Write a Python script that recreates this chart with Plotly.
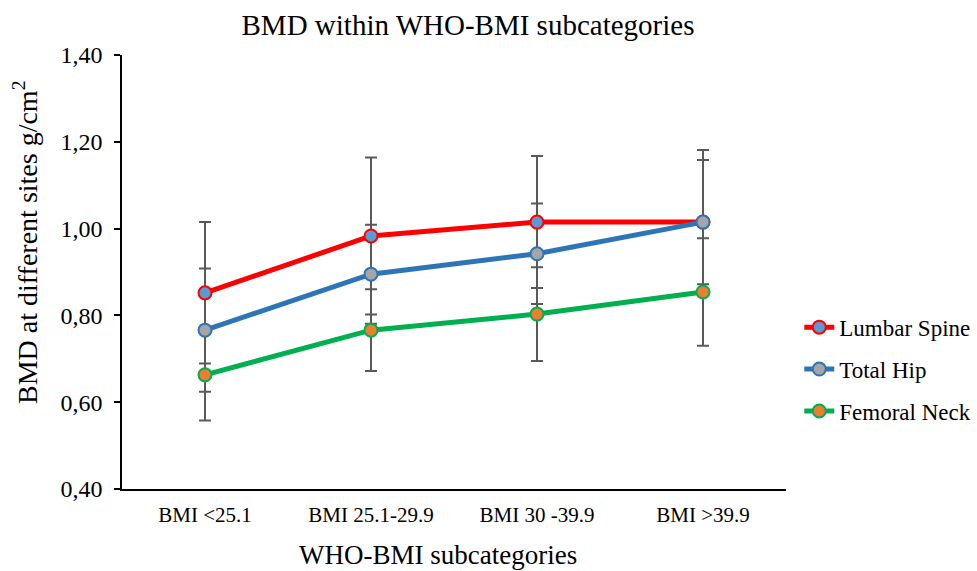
import plotly.graph_objects as go

categories = ["BMI <25.1", "BMI 25.1-29.9", "BMI 30 -39.9", "BMI >39.9"]
series_names = ["Lumbar Spine", "Total Hip", "Femoral Neck"]
lumbar_spine = [0.852, 0.983, 1.015, 1.015]
total_hip = [0.766, 0.895, 0.942, 1.015]
femoral_neck = [0.663, 0.766, 0.803, 0.854]
lumbar_sd = [0.163, 0.181, 0.152, 0.166]
total_hip_sd = [0.142, 0.114, 0.116, 0.143]
femoral_sd = [0.105, 0.094, 0.108, 0.124]
y_ticks = [0.40, 0.60, 0.80, 1.00, 1.20, 1.40]

FONT = "Liberation Serif"
values = [lumbar_spine, total_hip, femoral_neck]
sds = [lumbar_sd, total_hip_sd, femoral_sd]
line_colors = ["#FF0000", "#2E75B6", "#00B050"]
marker_fills = ["#5B9BD5", "#A5A5A5", "#ED7D31"]

fig = go.Figure()
# error bars first (beneath all lines)
for v, s in zip(values, sds):
    fig.add_trace(go.Scatter(
        x=categories, y=v, mode="markers",
        marker=dict(size=1, color="rgba(0,0,0,0)"),
        error_y=dict(type="data", array=s, visible=True, color="#595959",
                     thickness=2, width=6),
        showlegend=False, hoverinfo="skip"))

for i, (name, v) in enumerate(zip(series_names, values)):
    fig.add_trace(go.Scatter(
        x=categories, y=v, mode="lines+markers", name=name,
        legendgroup=name,
        line=dict(color=line_colors[i], width=5),
        marker=dict(size=13, color=marker_fills[i],
                    line=dict(color=line_colors[i], width=2))))

fig.update_layout(
    width=977, height=571,
    margin=dict(l=122, r=191, t=55, b=82, autoexpand=False),
    paper_bgcolor="white", plot_bgcolor="white",
    separators=",.",
    font=dict(family=FONT, color="black", size=20),
    title=dict(text="BMD within WHO-BMI subcategories",
               font=dict(family=FONT, size=29, color="black"),
               x=0.479, xref="container", xanchor="center",
               y=1 - 25 / 571, yref="container", yanchor="middle",
               automargin=False),
    showlegend=True,
    legend=dict(x=1.02, xanchor="left", y=0.276, yanchor="middle",
                font=dict(family=FONT, size=23, color="black"),
                traceorder="grouped", tracegroupgap=9,
                bgcolor="rgba(0,0,0,0)"),
    annotations=[
        dict(text="WHO-BMI subcategories", xref="paper", yref="paper",
             x=(438 - 122) / 664, y=-(555 - 489) / 434,
             xanchor="center", yanchor="middle", showarrow=False,
             font=dict(family=FONT, size=27, color="black")),
        dict(text="BMD at different sites g/cm<sup>2</sup>", xref="paper", yref="paper",
             x=-(122 - 25) / 664, y=(489 - 243) / 434, textangle=-90,
             xanchor="center", yanchor="middle", showarrow=False,
             font=dict(family=FONT, size=28, color="black")),
    ],
)
fig.update_xaxes(
    type="category", range=[-0.5, 3.5], automargin=False,
    showline=True, linecolor="black", linewidth=1.5,
    ticks="", showgrid=False, zeroline=False,
    tickfont=dict(family=FONT, size=21, color="black"), ticklabelstandoff=6,
)
fig.update_yaxes(
    range=[0.40, 1.40], tickvals=y_ticks, tickformat=".2f", automargin=False,
    showline=True, linecolor="black", linewidth=1.5,
    ticks="outside", ticklen=6, tickcolor="black", tickwidth=1.5,
    showgrid=False, zeroline=False,
    tickfont=dict(family=FONT, size=24, color="black"), ticklabelstandoff=7,
)

fig.write_html("out.html", config={"displayModeBar": False},
               post_script="document.body.style.margin='0';")
